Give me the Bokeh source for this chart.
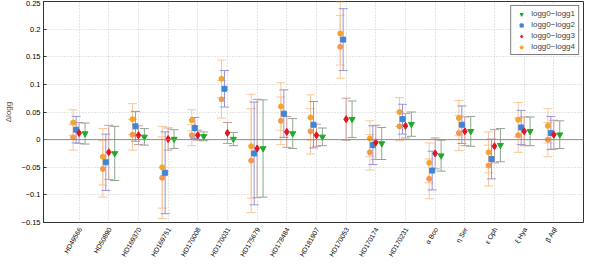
import numpy as np
from bokeh.plotting import figure
from bokeh.layouts import column
from bokeh.models import (ColumnDataSource, Whisker, TeeHead, FixedTicker, Span, Legend,
                          LegendItem, Range1d)
from bokeh.core.properties import value
from bokeh.embed import file_html
from bokeh.resources import INLINE

stars = ["HD49566", "HD50890", "HD169370", "HD169751", "HD170008", "HD170031",
         "HD175679", "HD178484", "HD181907", "HD170053", "HD170174", "HD170231",
         "α Boo", "η Ser", "ε Oph", "ξ Hya", "β Aql"]

# logg0-logg1 (green)
d1 = [0.011, -0.025, 0.005, 0.001, 0.006, 0.001, -0.016, 0.011, 0.005, 0.037,
      -0.007, 0.028, -0.029, 0.015, -0.010, 0.015, 0.009]
e1 = [0.019, 0.049, 0.015, 0.017, 0.008, 0.012, 0.088, 0.027, 0.016, 0.033,
      0.029, 0.022, 0.028, 0.027, 0.030, 0.026, 0.025]
# logg0-logg2 (blue)
d2 = [0.018, -0.041, 0.024, -0.060, 0.021, 0.092, -0.025, 0.047, 0.027, 0.181,
      -0.010, 0.037, -0.056, 0.027, -0.035, 0.022, 0.012]
e2 = [0.024, 0.051, 0.027, 0.074, 0.019, 0.033, 0.093, 0.043, 0.042, 0.056,
      0.035, 0.027, 0.035, 0.034, 0.036, 0.031, 0.030]
# logg0-logg3 (red)
d3 = [0.012, -0.023, 0.008, 0.001, 0.008, 0.012, -0.016, 0.014, 0.008, 0.037,
      -0.005, 0.025, -0.025, 0.015, -0.012, 0.015, 0.009]
e3 = [0.019, 0.049, 0.017, 0.020, 0.009, 0.019, 0.089, 0.028, 0.020, 0.038,
      0.031, 0.022, 0.028, 0.026, 0.030, 0.026, 0.026]
# logg0-logg4 (orange, upper) and second orange set (lower)
d4 = [0.031, -0.031, 0.037, -0.050, 0.035, 0.110, -0.012, 0.060, 0.040, 0.192,
      0.002, 0.050, -0.042, 0.039, -0.023, 0.036, 0.025]
d5 = [0.004, -0.053, 0.009, -0.069, 0.008, 0.073, -0.038, 0.034, 0.015, 0.168,
      -0.023, 0.024, -0.071, 0.012, -0.047, 0.008, 0.000]
e4 = [0.023, 0.051, 0.028, 0.074, 0.019, 0.034, 0.094, 0.043, 0.041, 0.057,
      0.032, 0.026, 0.036, 0.032, 0.037, 0.031, 0.031]

y_ticks = [-0.15, -0.1, -0.05, 0, 0.05, 0.1, 0.15, 0.2, 0.25]
y_tick_labels = ["−0.15", "−0.1", "−0.05", "0", "0.05", "0.1", "0.15", "0.2", "0.25"]
Y_MIN, Y_MAX = -0.15, 0.25

FONT = "Liberation Sans"

xr = Range1d(-0.2, 18)
p = figure(width=584, height=226, output_backend="svg", toolbar_location=None,
           x_range=xr, y_range=Range1d(Y_MIN, Y_MAX),
           min_border_left=23, min_border_right=1, min_border_top=1, min_border_bottom=4)
p.background_fill_color = "white"
p.outline_line_color = "#333333"
p.outline_line_width = 1

idx = np.arange(1, len(stars) + 1)

p.add_layout(Span(location=0, dimension="width", line_color="#8c8c8c", line_width=1))

series = [
    (d4, e4, -0.2, "#f3a52c", "#f6c79b", "circle", 5),
    (d5, e4, -0.2, "#f3994f", "#f6c79b", "circle", 5),
    (d2, e2, -0.1, "#3f86d6", "#9b93d6", "square", 5),
    (d3, e3, 0.0, "#e0161e", "#c99a9a", "diamond", 7),
    (d1, e1, 0.2, "#21a829", "#8fa68f", "inverted_triangle", 6),
]

renderers = []
for d, e, off, mc, ec, mk, sz in series:
    d = np.array(d)
    e = np.array(e)
    src = ColumnDataSource(dict(x=idx + off, y=d, upper=d + e, lower=d - e))
    w = Whisker(base="x", upper="upper", lower="lower", source=src, dimension="height",
                line_color=ec, line_width=1,
                upper_head=TeeHead(size=9, line_color=ec, line_width=1),
                lower_head=TeeHead(size=9, line_color=ec, line_width=1))
    p.add_layout(w)
for d, e, off, mc, ec, mk, sz in series:
    src = ColumnDataSource(dict(x=idx + off, y=np.array(d)))
    r = p.scatter("x", "y", source=src, marker=mk, size=sz, fill_color=mc, line_color=mc)
    renderers.append(r)

legend = Legend(items=[
    LegendItem(label="logg0−logg1", renderers=[renderers[4]]),
    LegendItem(label="logg0−logg2", renderers=[renderers[2]]),
    LegendItem(label="logg0−logg3", renderers=[renderers[3]]),
    LegendItem(label="logg0−logg4", renderers=[renderers[0]]),
], location="top_right")
legend.border_line_color = "black"
legend.border_line_width = 1
legend.background_fill_alpha = 1
legend.label_text_font = FONT
legend.label_text_font_size = "8px"
legend.label_height = 8
legend.glyph_height = 8
legend.glyph_width = 14
legend.spacing = 2
legend.padding = 3
legend.margin = 4
legend.label_standoff = 3
p.add_layout(legend)

p.xaxis.visible = False
ya = p.yaxis[0]
ya.ticker = FixedTicker(ticks=y_ticks)
ya.major_label_overrides = {t: l for t, l in zip(y_ticks, y_tick_labels)}
ya.major_label_text_font = FONT
ya.major_label_text_font_size = "7.5px"
ya.major_label_text_color = "black"
ya.major_label_standoff = 3
ya.axis_label = "Δlogg"
ya.axis_label_text_font_style = "normal"
ya.axis_label_text_font = FONT
ya.axis_label_text_font_size = "8px"
ya.axis_label_standoff = 6
ya.axis_line_color = "#333333"
ya.major_tick_line_color = "#333333"
ya.major_tick_in = 3
ya.major_tick_out = 0
ya.minor_tick_line_color = None

p.xgrid.ticker = FixedTicker(ticks=list(idx))
p.ygrid.ticker = FixedTicker(ticks=y_ticks)
for g in (p.xgrid[0], p.ygrid[0]):
    g.grid_line_color = "#c8c8c8"
    g.grid_line_dash = "1 2"
    g.grid_line_width = 1

# strip below the plot holding the rotated category labels (shares the x scale)
q = figure(width=584, height=32, output_backend="svg", toolbar_location=None,
           x_range=xr, y_range=Range1d(0, 1),
           min_border_left=23, min_border_right=1, min_border_top=0, min_border_bottom=0)
q.axis.visible = False
q.grid.visible = False
q.outline_line_color = None
lab_src = ColumnDataSource(dict(x=idx, y=np.full(len(stars), 0.955), text=stars))
q.text(x="x", y="y", text="text", source=lab_src, angle=np.pi / 3,
       text_align="right", text_baseline="middle", x_offset=1,
       text_font=value(FONT), text_font_size="6.8px", text_color="black")

open("out.html", "w").write(file_html(column(p, q, spacing=0), INLINE))
